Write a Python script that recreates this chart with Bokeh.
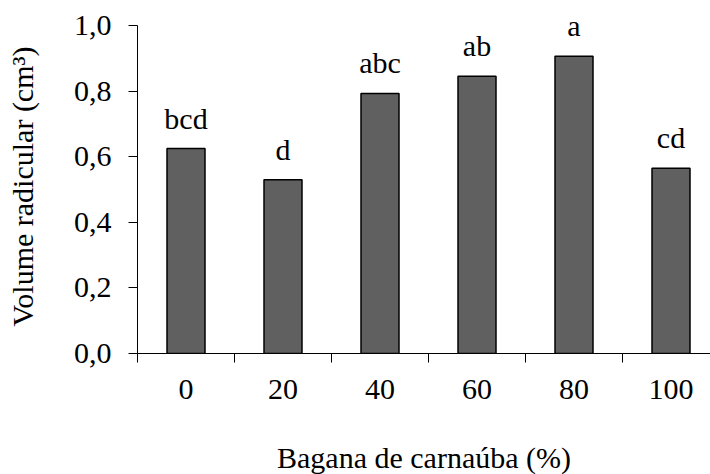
from bokeh.plotting import figure
from bokeh.models import Range1d, FixedTicker, CustomJSTickFormatter, ColumnDataSource, LabelSet
from bokeh.embed import file_html
from bokeh.resources import INLINE

categories = ["0", "20", "40", "60", "80", "100"]
volume = [0.625, 0.530, 0.793, 0.845, 0.906, 0.565]
letters = ["bcd", "d", "abc", "ab", "a", "cd"]
y_ticks = [0.0, 0.2, 0.4, 0.6, 0.8, 1.0]

FONT = "Liberation Serif"
FS = "30px"

xpos = list(range(len(categories)))
src = ColumnDataSource(dict(x=xpos, top=volume, lab=letters))

p = figure(frame_width=573, frame_height=334, output_backend="svg", toolbar_location=None,
           x_range=Range1d(-0.5, -0.5 + 573 / 97), y_range=Range1d(0, 334 / 328),
           min_border_left=137, min_border_right=0, min_border_top=19, min_border_bottom=0)
p.outline_line_color = None
p.xgrid.visible = False
p.ygrid.visible = False
p.background_fill_color = "white"
p.border_fill_color = "white"

p.vbar(x="x", top="top", bottom=0, width=38 / 97, source=src,
       fill_color="#606060", line_color="black", line_width=1.5)
labels = LabelSet(x="x", y="top", text="lab", source=src, y_offset=20,
                  text_align="center", text_baseline="alphabetic",
                  text_font=FONT, text_font_size=FS, text_color="black")
p.add_layout(labels)

# x axis
xa = p.xaxis[0]
xa.ticker = FixedTicker(ticks=xpos, minor_ticks=[i - 0.5 for i in range(len(categories) + 1)])
xa.major_label_overrides = {i: c for i, c in zip(xpos, categories)}
xa.major_tick_line_color = None
xa.major_tick_out = 9
xa.major_tick_in = 0
xa.minor_tick_out = 9
xa.minor_tick_in = 0
xa.minor_tick_line_color = "black"
xa.axis_line_color = "black"
xa.major_label_standoff = 17
xa.major_label_text_font = FONT
xa.major_label_text_font_size = FS
xa.major_label_text_color = "black"
xa.axis_label = "Bagana de carnaúba (%)"
xa.axis_label_text_font = FONT
xa.axis_label_text_font_size = FS
xa.axis_label_text_font_style = "normal"
xa.axis_label_text_color = "black"
xa.axis_label_standoff = 39

# y axis
ya = p.yaxis[0]
ya.ticker = FixedTicker(ticks=y_ticks)
ya.bounds = (0, 1.0)
ya.formatter = CustomJSTickFormatter(code="return tick.toFixed(1).replace('.', ',');")
ya.major_tick_out = 9
ya.major_tick_in = 0
ya.minor_tick_line_color = None
ya.major_tick_line_color = "black"
ya.axis_line_color = "black"
ya.major_label_standoff = 17
ya.major_label_text_font = FONT
ya.major_label_text_font_size = FS
ya.major_label_text_color = "black"
ya.axis_label = "Volume radicular (cm³)"
ya.axis_label_text_font = FONT
ya.axis_label_text_font_size = FS
ya.axis_label_text_font_style = "normal"
ya.axis_label_text_color = "black"
ya.axis_label_standoff = 32

open("out.html", "w").write(file_html(p, INLINE))
